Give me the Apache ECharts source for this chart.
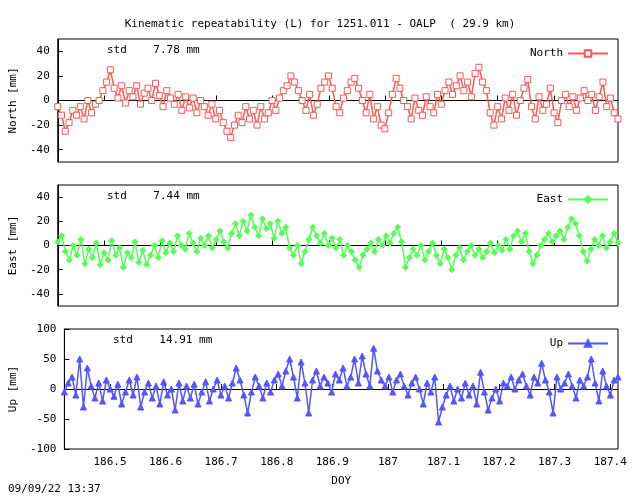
<!DOCTYPE html>
<html><head><meta charset="utf-8">
<script src="https://cdn.jsdelivr.net/npm/echarts@6/dist/echarts.min.js"></script>
<style>html,body{margin:0;padding:0;background:#fff}#c{width:640px;height:496px}</style>
</head><body><div id="c"></div>
<script>
const doyStart = 186.418, doyEnd = 187.414;
const xTicks = [186.5,186.6,186.7,186.8,186.9,187.0,187.1,187.2,187.3,187.4];
const neTicks = [-40,-20,0,20,40];
const upTicks = [-100,-50,0,50,100];
const north = [-5,-12,-25,-18,-8,-12,-5,-15,0,-10,-3,0,8,15,25,10,2,12,-2,8,3,12,-3,6,10,0,14,4,-5,8,2,
 -3,5,-8,3,-6,2,-10,0,-5,-12,-3,-15,-8,-18,-25,-30,-20,-12,-18,-5,-15,-8,-20,-5,-15,-10,0,-8,
 2,8,12,20,15,8,0,-8,5,-12,-3,10,15,20,10,-5,-10,2,8,15,18,10,0,-10,5,-15,-5,-20,-23,-10,5,18,10,0,
 -5,-15,2,-8,-12,3,-5,-10,5,-3,8,15,5,12,20,8,15,3,22,27,15,8,-10,-20,-5,-15,2,-8,
 5,-12,0,10,17,-5,-15,3,-8,-3,10,-10,-18,0,5,-5,3,-8,2,8,0,5,-8,3,15,-5,2,-10,-15];
const east = [3,8,-5,-12,0,-8,5,-15,-3,-10,2,-16,-6,-12,4,-8,-2,-18,-6,-10,3,-14,-4,-16,-8,0,-10,4,-6,2,
 -5,8,0,-3,10,2,-5,6,0,8,-2,5,12,3,-2,10,18,8,20,12,25,15,8,22,14,18,6,20,10,15,
 -2,-8,0,-15,-5,5,15,8,2,10,0,6,-2,5,-8,0,-5,-12,-18,-8,-3,2,-5,5,0,8,2,10,15,3,
 -18,-10,-3,-8,0,-12,-5,2,-8,-15,-3,-10,-20,-8,-2,-12,-5,0,-8,-3,-10,-5,2,-6,0,-4,
 5,-3,8,12,3,10,-5,-15,-8,0,5,10,3,8,12,5,15,22,18,8,-5,-13,-3,5,0,8,-2,3,10,2];
const up = [-5,10,20,-10,50,-30,35,5,-15,10,-20,15,0,-12,8,-25,-5,15,-10,20,-30,-5,10,-15,5,-25,12,-10,0,-35,
 10,-20,5,-15,8,-25,-5,12,-20,0,15,-10,5,-15,10,35,15,-10,-40,-5,20,5,-15,10,-5,15,25,5,30,50,
 20,-15,45,10,-40,15,30,5,20,10,-5,25,15,35,5,20,50,10,55,25,5,68,30,15,5,20,-5,15,25,5,
 -10,10,20,0,-25,10,-5,20,-55,-30,-10,5,-20,0,-15,10,-10,5,-25,28,-5,-35,-15,0,-20,10,
 5,20,0,15,25,5,-10,20,10,43,15,-5,-40,20,0,10,25,5,-15,15,5,20,50,10,-20,30,5,-10,15,20];
const stdN = '7.78', stdE = '7.44', stdU = '14.91';

const FONT = 'DejaVu Sans Mono';
const pairs = arr => arr.map((v, i) => [doyStart + i * (doyEnd - doyStart) / (arr.length - 1), v]);

const grids = [
 {left:57,right:22,top:39,height:123},
 {left:57,right:22,top:185,height:121},
 {left:57,right:22,top:329,height:120}
];
const axLine = {show:true,lineStyle:{color:'#000',width:1}};
function xAxis(i, labels){
 return {type:'value',gridIndex:i,min:doyStart,max:doyEnd,
  axisLine:axLine,splitLine:{show:false},
  axisTick:{inside:true,length:5,lineStyle:{color:'#000'},customValues:xTicks},
  axisLabel:{show:labels,customValues:xTicks,color:'#000',fontFamily:FONT,fontSize:11,margin:8,
   formatter:v=>String(+v.toFixed(1))},
  name:labels?'DOY':'',nameLocation:'middle',nameGap:27,
  nameTextStyle:{color:'#000',fontFamily:FONT,fontSize:11}};
}
function yAxis(i,min,max,ticks,name){
 return {type:'value',gridIndex:i,min,max,
  axisLine:axLine,splitLine:{show:false},
  axisTick:{inside:true,length:5,lineStyle:{color:'#000'},customValues:ticks},
  axisLabel:{color:'#000',fontFamily:FONT,fontSize:11,margin:8,customValues:ticks},
  name,nameLocation:'middle',nameGap:36,
  nameTextStyle:{color:'#000',fontFamily:FONT,fontSize:11}};
}
function ser(name,data,i,color,symbol,filled){
 return {name,type:'line',xAxisIndex:i,yAxisIndex:i,data:pairs(data),
  symbol,symbolSize:6,showSymbol:true,
  lineStyle:{color,width:1.5},
  itemStyle:{color:filled?color:'#fff',borderColor:color,borderWidth:1},
  emphasis:{disabled:true},animation:false,z:3,
  markLine:{silent:true,symbol:'none',label:{show:false},
   lineStyle:{color:'#000',width:1,type:'solid'},data:[{yAxis:0}],z:1}};
}
function leg(name,i,top){
 return {data:[name],right:26,top,align:'right',orient:'horizontal',
  itemWidth:40,itemHeight:8,
  textStyle:{color:'#000',fontFamily:FONT,fontSize:11}};
}
const ch = echarts.init(document.getElementById('c'));
ch.setOption({
 backgroundColor:'#fff',animation:false,
 title:{text:'Kinematic repeatability (L) for 1251.011 - OALP  ( 29.9 km)',left:'center',top:14,
  textStyle:{color:'#000',fontFamily:FONT,fontSize:11,fontWeight:'normal'}},
 grid:grids.map(g=>Object.assign({show:true,borderColor:'#000',borderWidth:1,backgroundColor:'transparent'},g)),
 xAxis:[xAxis(0,false),xAxis(1,false),xAxis(2,true)],
 yAxis:[yAxis(0,-50,50,neTicks,'North [mm]'),yAxis(1,-50,50,neTicks,'East [mm]'),yAxis(2,-100,100,upTicks,'Up [mm]')],
 legend:[leg('North',0,43),leg('East',1,189),leg('Up',2,333)],
 series:[
  ser('North',north,0,'#ff5555','rect',false),
  ser('East',east,1,'#55ff55','diamond',true),
  ser('Up',up,2,'#5555ff','triangle',true)
 ],
 graphic:[
  {type:'text',left:107,top:45,style:{text:'std    '+stdN+' mm',font:'11px '+FONT,fill:'#000'}},
  {type:'text',left:107,top:191,style:{text:'std    '+stdE+' mm',font:'11px '+FONT,fill:'#000'}},
  {type:'text',left:113,top:335,style:{text:'std    '+stdU+' mm',font:'11px '+FONT,fill:'#000'}},
  {type:'text',left:8,top:484,style:{text:'09/09/22 13:37',font:'11px '+FONT,fill:'#000'}}
 ]
});
</script></body></html>
